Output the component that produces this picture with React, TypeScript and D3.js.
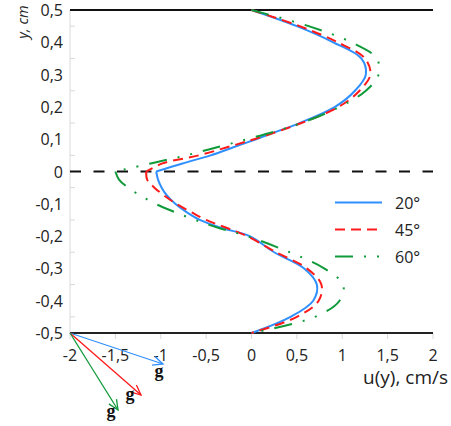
import React from 'react';
import * as d3 from 'd3';

const yValues = [0.5, 0.45, 0.4, 0.35, 0.3, 0.25, 0.2, 0.15, 0.125, 0.1, 0.075, 0.05, 0.025, 0, -0.025, -0.05, -0.075, -0.1, -0.125, -0.15, -0.175, -0.2, -0.25, -0.3, -0.35, -0.4, -0.45, -0.5];
const u20 = [0, 0.5, 0.9, 1.21, 1.26, 1.14, 0.92, 0.53, 0.29, 0.05, -0.2, -0.45, -0.76, -1.05, -1.03, -0.99, -0.93, -0.84, -0.72, -0.57, -0.33, -0.02, 0.25, 0.58, 0.72, 0.68, 0.43, 0];
const u45 = [0, 0.53, 0.95, 1.25, 1.31, 1.19, 0.96, 0.55, 0.3, 0.03, -0.27, -0.58, -0.98, -1.16, -1.15, -1.07, -0.96, -0.83, -0.67, -0.5, -0.27, -0.05, 0.27, 0.61, 0.77, 0.74, 0.5, 0];
const u60 = [0, 0.63, 1.1, 1.38, 1.4, 1.26, 0.97, 0.55, 0.27, -0.05, -0.38, -0.72, -1.11, -1.5, -1.46, -1.36, -1.22, -1.06, -0.85, -0.62, -0.36, -0.05, 0.42, 0.8, 1.01, 0.97, 0.7, 0];
const seriesNames = ['20°', '45°', '60°'];
const xTicks = [-2, -1.5, -1, -0.5, 0, 0.5, 1, 1.5, 2];
const yTicks = [0.5, 0.4, 0.3, 0.2, 0.1, 0, -0.1, -0.2, -0.3, -0.4, -0.5];
const yMinorTicks = [0.45, 0.35, 0.25, 0.15, 0.05, -0.05, -0.15, -0.25, -0.35, -0.45];

const colors = ['#2f8fff', '#ff1a1a', '#109a3a'];
const dashes = [undefined, '10,6', '18,11,2,11,2,11'];
const arrowTips = [[93, 31], [71, 62], [48, 77]];
const gPos = [[159, 377], [130, 400], [111, 417]];

const fmt = (v: number) => String(v).replace('.', ',');
const font = "'Open Sans', 'DejaVu Sans', sans-serif";

export default function App() {
  const W = 451, H = 426;
  const x = d3.scaleLinear().domain([-2, 2]).range([70, 433]);
  const y = d3.scaleLinear().domain([-0.5, 0.5]).range([333, 10]);
  const series = [u20, u45, u60];
  const line = d3.line<[number, number]>()
    .x(d => x(d[0]))
    .y(d => y(d[1]))
    .curve(d3.curveCatmullRom.alpha(0.5));

  const pathFor = (s: number[]) => {
    const pts = s.map((u, j) => [u, yValues[j]] as [number, number]);
    const upper = pts.filter(p => p[1] >= 0);
    const lower = pts.filter(p => p[1] <= 0);
    return (line(upper) || '') + (line(lower) || '');
  };

  const ox = x(-2), oy = y(-0.5);

  return (
    <svg width={W} height={H} style={{ position: 'absolute', left: 0, top: 0, background: '#fff' }} fontFamily={font}>
      {/* left gray axis */}
      <line x1={ox} x2={ox} y1={y(0.5)} y2={y(-0.5)} stroke="#d9d9d9" strokeWidth={1} />
      {yMinorTicks.map(t => (
        <line key={'ym' + t} x1={ox} x2={ox + 5} y1={y(t)} y2={y(t)} stroke="#d9d9d9" strokeWidth={1} />
      ))}
      {xTicks.map(t => (
        <line key={'xt' + t} x1={x(t)} x2={x(t)} y1={oy} y2={oy + 6} stroke="#d9d9d9" strokeWidth={1} />
      ))}
      {/* horizontal boundaries */}
      <line x1={x(-2)} x2={x(2)} y1={y(0.5)} y2={y(0.5)} stroke="#111" strokeWidth={2} />
      <line x1={x(-2)} x2={x(2)} y1={y(-0.5)} y2={y(-0.5)} stroke="#222" strokeWidth={2.2} />
      <line x1={x(-2)} x2={x(2)} y1={y(0)} y2={y(0)} stroke="#111" strokeWidth={2} strokeDasharray="11,12.5" />

      {/* curves */}
      {series.map((s, i) => (
        <path key={'s' + i}
          d={pathFor(s)}
          fill="none" stroke={colors[i]} strokeWidth={2} strokeDasharray={dashes[i]} strokeLinejoin="round" />
      ))}

      {/* y tick labels */}
      {yTicks.map(t => (
        <text key={'yl' + t} x={63} y={y(t)} textAnchor="end" dominantBaseline="central" fontSize={16} fill="#222">{fmt(t)}</text>
      ))}
      {/* x tick labels */}
      {xTicks.map(t => (
        <text key={'xl' + t} x={x(t)} y={355} textAnchor="middle" dominantBaseline="central" fontSize={16} fill="#222">{fmt(t)}</text>
      ))}

      {/* axis titles */}
      <text transform={`translate(22,22) rotate(-90)`} textAnchor="middle" dominantBaseline="central" fontSize={14.5} fontStyle="italic" fill="#222">y, cm</text>
      <text x={448} y={377} textAnchor="end" dominantBaseline="central" fontSize={19} fill="#222">u(y), cm/s</text>

      {/* legend */}
      {seriesNames.map((n, i) => {
        const ly = 202.5 + i * 27;
        return (
          <g key={'lg' + i}>
            <line x1={335} x2={382} y1={ly} y2={ly} stroke={colors[i]} strokeWidth={2} strokeDasharray={dashes[i]} />
            <text x={395} y={ly} dominantBaseline="central" fontSize={16} fill="#222">{n}</text>
          </g>
        );
      })}

      {/* gravity arrows */}
      {arrowTips.map((tp, i) => {
        const tx = ox + tp[0], ty = oy + tp[1];
        const ang = Math.atan2(tp[1], tp[0]);
        const hl = 11, ha = 0.42;
        const a1 = ang + Math.PI - ha, a2 = ang + Math.PI + ha;
        return (
          <g key={'ar' + i}>
            <line x1={ox} y1={oy} x2={tx} y2={ty} stroke={colors[i]} strokeWidth={1.3} />
            <polyline points={`${tx + hl * Math.cos(a1)},${ty + hl * Math.sin(a1)} ${tx},${ty} ${tx + hl * Math.cos(a2)},${ty + hl * Math.sin(a2)}`}
              fill="none" stroke={colors[i]} strokeWidth={1.3} />
            <text x={gPos[i][0]} y={gPos[i][1]} textAnchor="middle" fontSize={18} fontWeight="bold" fontFamily="'Liberation Serif', serif" fill="#111">g</text>
          </g>
        );
      })}
    </svg>
  );
}
